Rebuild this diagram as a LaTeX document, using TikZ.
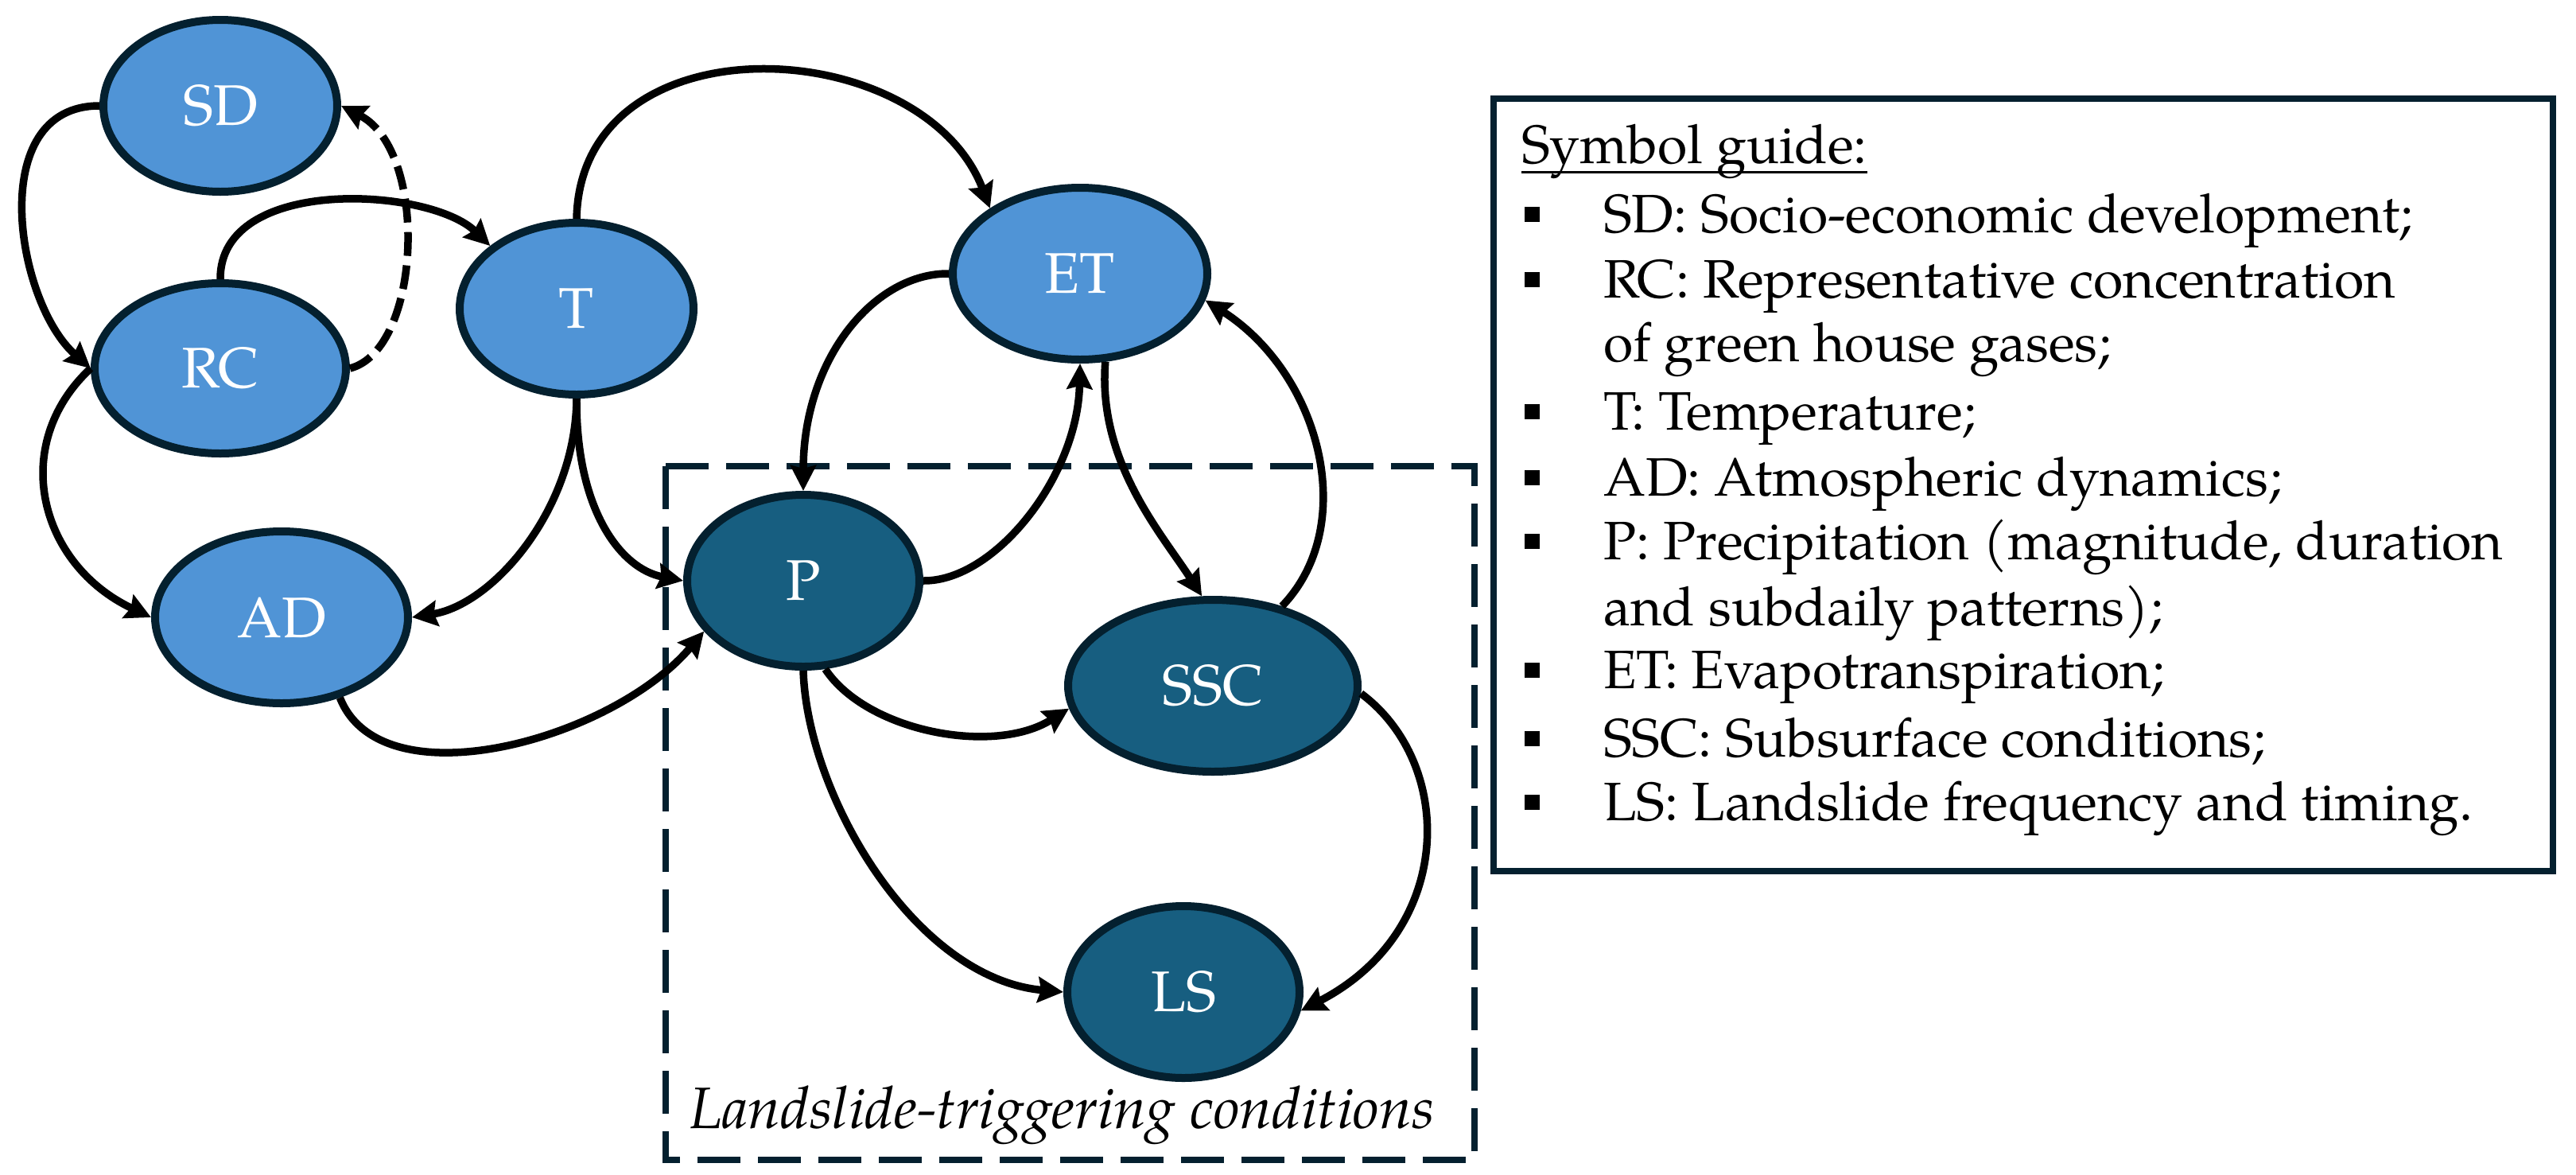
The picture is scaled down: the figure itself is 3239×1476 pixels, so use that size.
\documentclass[tikz,border=0pt]{standalone}
\usepackage{fontspec}
\setmainfont{TeX Gyre Pagella}
\usetikzlibrary{shapes.geometric,arrows.meta}
\definecolor{light}{RGB}{80,148,214}
\definecolor{darkb}{RGB}{23,94,128}
\definecolor{navy}{RGB}{4,32,47}
\begin{document}
\begin{tikzpicture}[x=1pt,y=1pt,
  nd/.style={ellipse,draw=navy,line width=10pt,inner sep=0pt,text=white,
    font=\fontsize{72}{80}\selectfont},
  lnode/.style={nd,fill=light},
  dnode/.style={nd,fill=darkb},
  conn/.style={line width=9.5pt,-{Stealth[length=32pt,width=32pt,inset=4pt]}},
  leg/.style={anchor=base west,inner sep=0pt,font=\fontsize{68}{80}\selectfont},
  bul/.style={fill=black,minimum width=19pt,minimum height=19pt,inner sep=0pt}
]
\useasboundingbox (0,0) rectangle (3239,-1476);
% nodes
\node[lnode,minimum width=294pt,minimum height=216pt] (SD) at (277,-133) {SD};
\node[lnode,minimum width=316pt,minimum height=214pt] (RC) at (277,-463) {RC};
\node[lnode,minimum width=294pt,minimum height=216pt] (T) at (725,-388) {T};
\node[lnode,minimum width=318pt,minimum height=216pt] (AD) at (354,-776) {AD};
\node[lnode,minimum width=320pt,minimum height=216pt] (ET) at (1358,-344) {ET};
\node[dnode,minimum width=292pt,minimum height=216pt] (P) at (1010,-730) {P};
\node[dnode,minimum width=364pt,minimum height=216pt] (SSC) at (1525,-862) {SSC};
\node[dnode,minimum width=292pt,minimum height=216pt] (LS) at (1488,-1247) {LS};
% dashed region
\draw[navy,line width=7.5pt,dash pattern=on 54pt off 22pt] (837,-586) rectangle (1854,-1458);
\node[anchor=base west,inner sep=0pt,font=\fontsize{73.5}{80}\selectfont\itshape] (lab) at (867,-1418) {Landslide-triggering conditions};
% connectors
\draw[conn] (SD.180) .. controls (-20,-133) and (20,-380) .. (RC.180);
\draw[conn] (RC.180) .. controls (10,-560) and (50,-710) .. (AD.180);
\draw[conn] (RC.90) .. controls (276,-220) and (540,-235) .. (T.144);
\draw[conn,dash pattern=on 30pt off 12pt] (RC.0) .. controls (530,-440) and (540,-190) .. (SD.0);
\draw[conn] (T.90) .. controls (730,-20) and (1160,-40) .. (ET.144);
\draw[conn] (T.270) .. controls (724,-640) and (620,-760) .. (AD.0);
\draw[conn] (T.270) .. controls (724,-640) and (780,-715) .. (P.180);
\draw[conn] (AD.306) .. controls (480,-1010) and (770,-930) .. (P.207);
\draw[conn] (ET.180) .. controls (1100,-343) and (1010,-450) .. (P.90);
\draw[conn] (P.0) .. controls (1250,-731) and (1355,-600) .. (ET.270);
\draw[conn] (ET.286) .. controls (1380,-580) and (1460,-670) .. (SSC.97);
\draw[conn] (SSC.49) .. controls (1710,-660) and (1660,-470) .. (ET.348);
\draw[conn] (P.284) .. controls (1090,-920) and (1250,-950) .. (SSC.189);
\draw[conn] (P.270) .. controls (1015,-1000) and (1150,-1230) .. (LS.180);
\draw[conn] (SSC.357) .. controls (1830,-960) and (1830,-1170) .. (LS.351);
% legend
\draw[navy,line width=8pt] (1878,-124) rectangle (3210,-1095);
\node[leg] (title) at (1913,-205) {Symbol guide:};
\draw[line width=3pt] ([yshift=-11pt]title.base west) -- ([yshift=-11pt]title.base east);
\node[leg] (l1) at (2016,-292) {SD: Socio-economic development;};
\node[leg] (l2) at (2016,-374) {RC: Representative concentration};
\node[leg] (l2b) at (2016,-454) {of green house gases;};
\node[leg] (l3) at (2016,-540) {T: Temperature;};
\node[leg] (l4) at (2016,-623) {AD: Atmospheric dynamics;};
\node[leg] (l5) at (2016,-703) {P: Precipitation (magnitude, duration};
\node[leg] (l5b) at (2016,-786) {and subdaily patterns);};
\node[leg] (l6) at (2016,-865) {ET: Evapotranspiration;};
\node[leg] (l7) at (2016,-951) {SSC: Subsurface conditions;};
\node[leg] (l8) at (2016,-1031) {LS: Landslide frequency and timing.};
\node[bul] (b1) at (1926,-269) {};
\node[bul] (b2) at (1926,-351) {};
\node[bul] (b3) at (1926,-517) {};
\node[bul] (b4) at (1926,-600) {};
\node[bul] (b5) at (1926,-680) {};
\node[bul] (b6) at (1926,-842) {};
\node[bul] (b7) at (1926,-928) {};
\node[bul] (b8) at (1926,-1008) {};
\end{tikzpicture}
\end{document}
